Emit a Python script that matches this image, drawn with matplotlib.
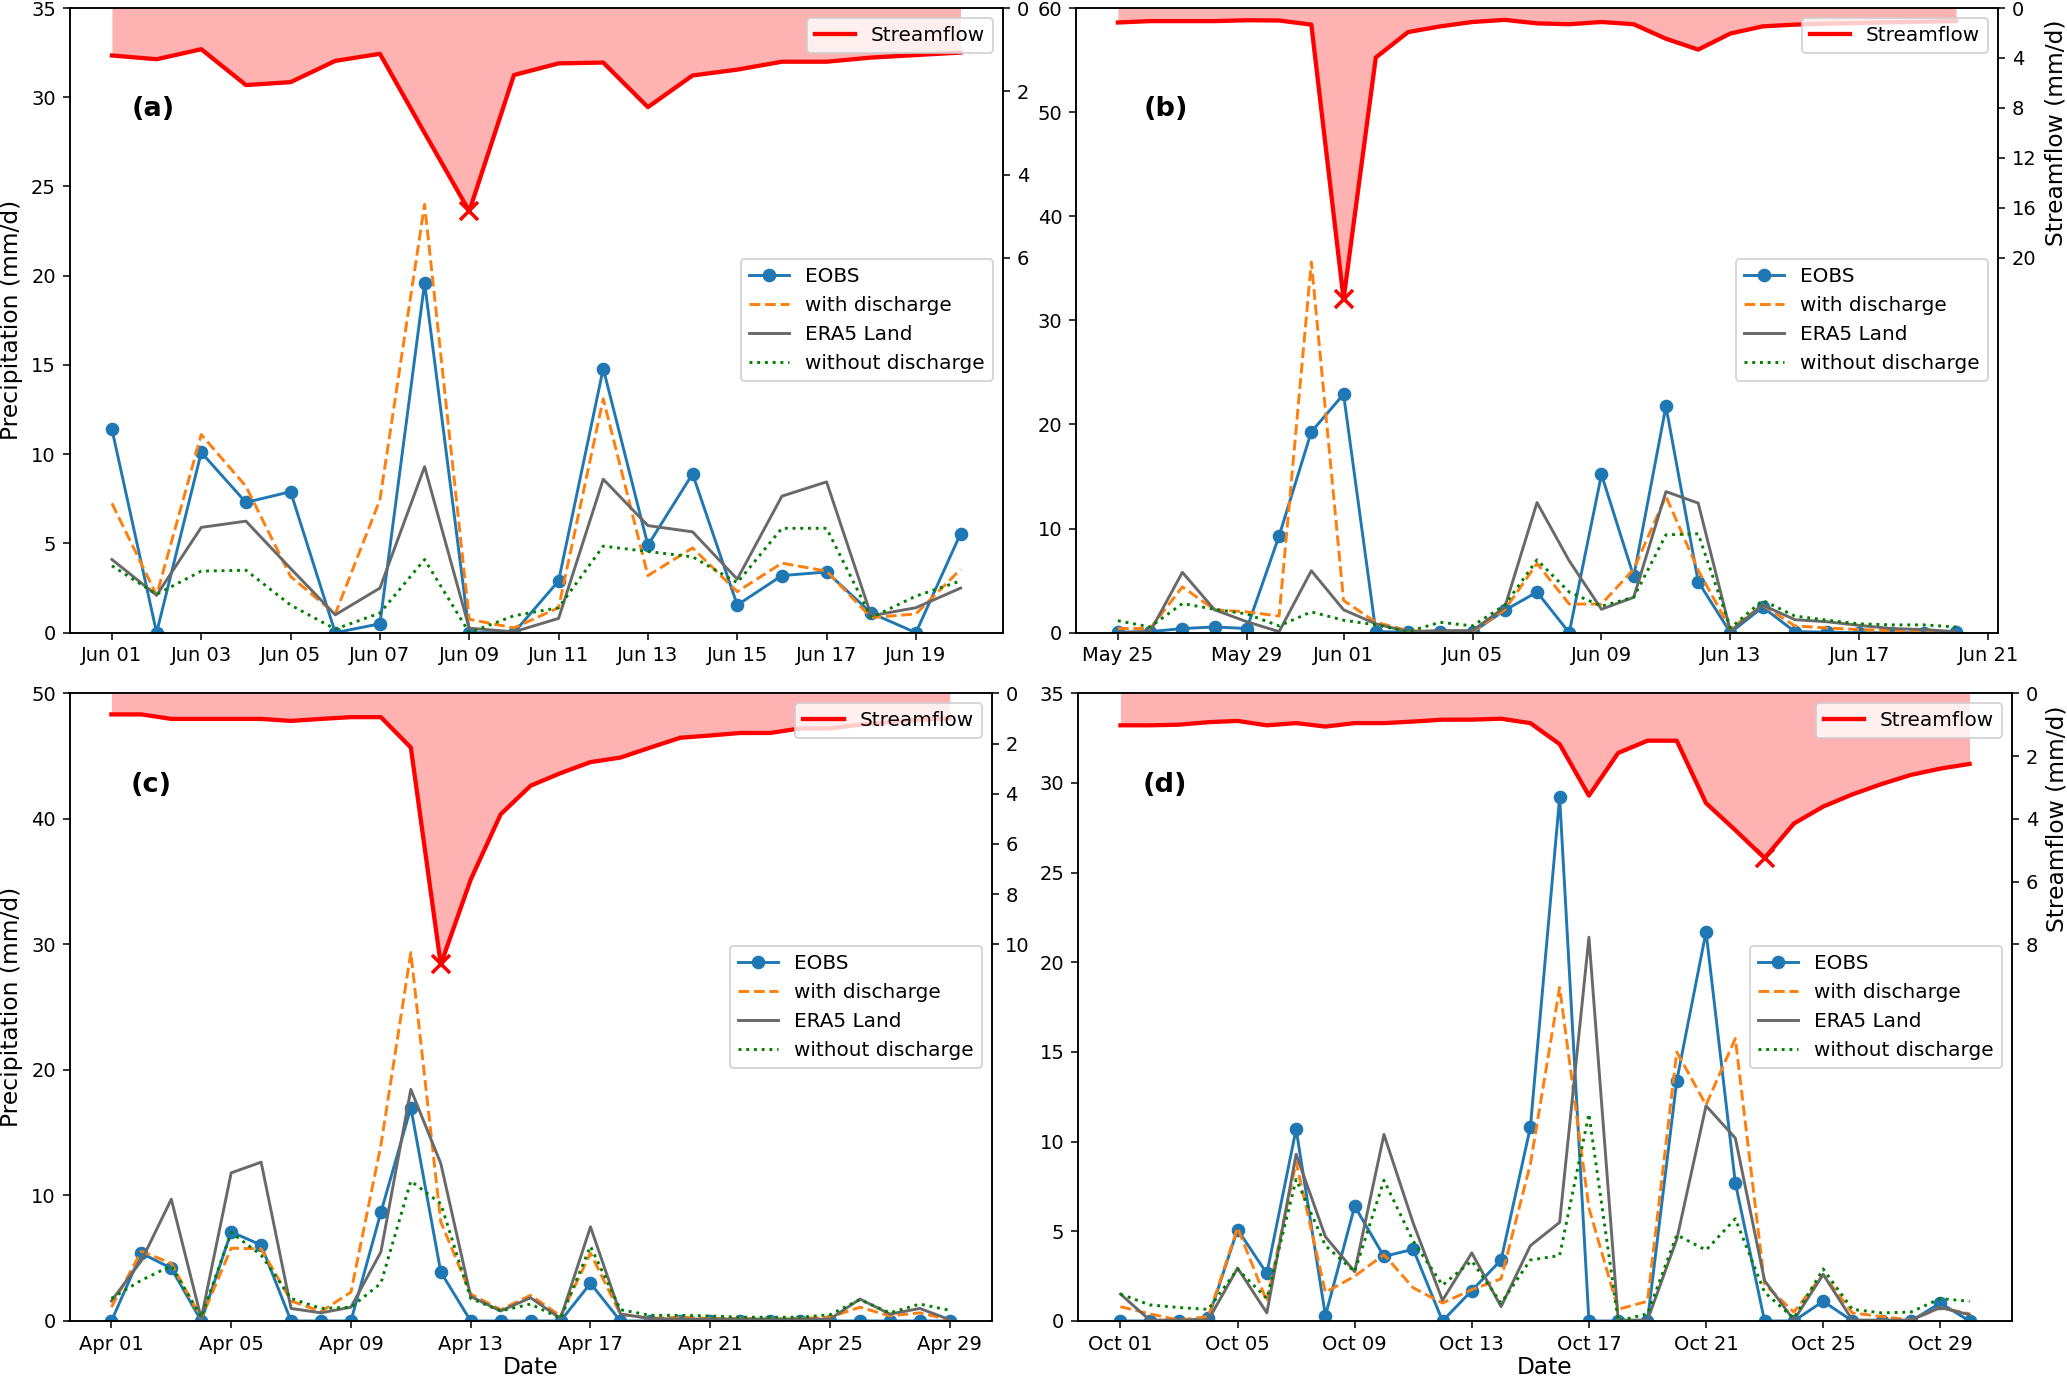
import matplotlib
matplotlib.use("Agg")
import matplotlib.pyplot as plt
import matplotlib.dates as mdates
import pandas as pd

# --- data ---
dates_a = pd.date_range("2000-06-01", "2000-06-20")
eobs_a = [11.4, 0, 10.1, 7.3, 7.9, 0, 0.5, 19.6, 0, 0, 2.9, 14.8, 4.9, 8.9, 1.55, 3.2, 3.4, 1.1, 0, 5.55]
with_a = [7.25, 2.1, 11.1, 8.2, 3.15, 1.05, 7.45, 24.0, 0.75, 0.27, 1.4, 13.1, 3.2, 4.75, 2.3, 3.9, 3.45, 0.85, 1.05, 3.55]
era_a = [4.1, 2.1, 5.9, 6.25, 3.6, 1.0, 2.5, 9.3, 0.25, 0.05, 0.8, 8.6, 6.0, 5.65, 3.0, 7.65, 8.45, 0.95, 1.4, 2.5]
without_a = [3.75, 2.15, 3.45, 3.5, 1.55, 0.2, 1.1, 4.1, 0.0, 0.95, 1.4, 4.85, 4.55, 4.25, 2.8, 5.85, 5.85, 0.85, 2.05, 2.9]
q_a = [1.14, 1.23, 0.99, 1.85, 1.78, 1.27, 1.10, 3.0, 4.88, 1.61, 1.33, 1.31, 2.38, 1.62, 1.48, 1.29, 1.29, 1.19, 1.13, 1.07]

dates_b = pd.date_range("2000-05-25", "2000-06-20")
eobs_b = [0.05, 0.1, 0.4, 0.55, 0.4, 9.3, 19.3, 22.9, 0.1, 0.05, 0.05, 0.05, 2.15, 3.9, 0, 15.2, 5.4, 21.75,
          4.9, 0, 2.45, 0.1, 0.05, 0, 0, 0, 0.1]
with_b = [0.4, 0.4, 4.4, 2.2, 2.0, 1.6, 35.6, 3.1, 1.0, 0.2, 0.1, 0.1, 2.2, 6.65, 2.75, 2.75, 6.1, 13.1,
          6.0, 0.35, 2.65, 0.65, 0.45, 0.3, 0.2, 0.1, 0.05]
era_b = [0.0, 0.1, 5.8, 2.2, 1.05, 0.1, 5.95, 2.2, 0.85, 0.1, 0.2, 0.2, 2.45, 12.5, 6.9, 2.25, 3.4, 13.55,
         12.45, 0.15, 2.65, 1.25, 1.05, 0.7, 0.4, 0.3, 0.1]
without_b = [1.15, 0.55, 2.8, 2.25, 1.8, 0.65, 2.0, 1.2, 0.75, 0.1, 1.0, 0.65, 2.65, 7.0, 3.9, 2.55, 3.4, 9.4,
             9.5, 0.45, 3.1, 1.6, 1.2, 0.85, 0.75, 0.75, 0.55]
q_b = [1.16, 1.05, 1.05, 1.05, 0.98, 1.0, 1.33, 23.3, 3.96, 1.93, 1.47, 1.12, 0.95, 1.23, 1.30, 1.12, 1.30,
       2.46, 3.33, 2.04, 1.47, 1.33, 1.25, 1.2, 1.15, 1.1, 1.05]

dates_c = pd.date_range("2000-04-01", "2000-04-29")
eobs_c = [0, 5.4, 4.2, 0, 7.1, 6.05, 0, 0, 0, 8.65, 17.0, 3.9, 0, 0, 0, 0, 3.0, 0, 0, 0, 0, 0, 0, 0, 0,
          0, 0, 0, 0]
with_c = [1.1, 5.55, 4.6, 0.2, 5.8, 5.75, 1.6, 0.75, 2.3, 14.0, 29.35, 7.9, 2.15, 0.9, 2.05, 0.4, 5.4, 0.55,
          0.2, 0.3, 0.2, 0.2, 0.15, 0.2, 0.3, 1.1, 0.4, 0.65, 0.1]
era_c = [1.6, 4.8, 9.7, 0.2, 11.8, 12.65, 1.0, 0.65, 1.1, 5.5, 18.45, 12.55, 1.95, 0.8, 1.85, 0.2, 7.5, 0.55,
         0.2, 0.15, 0.15, 0.15, 0.15, 0.15, 0.15, 1.75, 0.55, 1.0, 0.1]
without_c = [1.8, 3.25, 4.4, 0.3, 7.05, 5.25, 1.8, 1.0, 1.1, 3.0, 11.15, 9.35, 1.8, 0.8, 1.35, 0.2, 5.95, 0.9,
             0.45, 0.45, 0.4, 0.3, 0.3, 0.3, 0.5, 1.7, 0.65, 1.35, 0.85]
q_c = [0.84, 0.84, 1.02, 1.02, 1.02, 1.02, 1.1, 1.02, 0.95, 0.95, 2.16, 10.8, 7.42, 4.82, 3.68, 3.18, 2.74,
       2.56, 2.16, 1.77, 1.68, 1.58, 1.58, 1.40, 1.40, 1.25, 1.15, 1.05, 1.0]

dates_d = pd.date_range("2000-10-01", "2000-10-30")
eobs_d = [0, 0, 0, 0.15, 5.1, 2.65, 10.7, 0.3, 6.4, 3.6, 4.0, 0, 1.7, 3.4, 10.8, 29.2, 0, 0, 0, 13.4, 21.7,
          7.7, 0, 0, 1.1, 0, 0, 0, 1.0, 0]
with_d = [0.8, 0.4, 0.05, 0.25, 5.2, 1.1, 8.85, 1.6, 2.5, 3.7, 1.85, 1.0, 1.75, 2.35, 8.75, 18.6, 6.3, 0.65,
          1.1, 15.0, 12.05, 15.75, 2.05, 0.5, 2.6, 0.45, 0.25, 0.05, 0.75, 0.4]
era_d = [1.5, 0.05, 0.05, 0.05, 2.95, 0.45, 9.3, 4.7, 2.75, 10.4, 5.45, 1.15, 3.8, 0.8, 4.2, 5.5, 21.4, 0.05,
         0.05, 4.55, 12.0, 10.2, 2.25, 0.05, 2.6, 0.05, 0.05, 0.05, 0.75, 0.35]
without_d = [1.5, 0.9, 0.75, 0.65, 2.9, 1.25, 7.9, 4.2, 2.75, 7.85, 4.45, 2.0, 3.35, 1.0, 3.4, 3.65, 11.55,
             0.0, 0.4, 4.8, 3.95, 5.7, 1.6, 0.15, 2.9, 0.65, 0.45, 0.5, 1.25, 1.1]
q_d = [1.02, 1.02, 1.0, 0.92, 0.88, 1.02, 0.95, 1.06, 0.95, 0.95, 0.9, 0.84, 0.84, 0.81, 0.95, 1.62, 3.26,
       1.9, 1.51, 1.51, 3.5, 4.36, 5.25, 4.15, 3.61, 3.22, 2.89, 2.6, 2.4, 2.25]

panel_labels = ["(a)", "(b)", "(c)", "(d)"]
q_ticks = [[0, 2, 4, 6], [0, 4, 8, 12, 16, 20], [0, 2, 4, 6, 8, 10], [0, 2, 4, 6, 8]]
q_max = [15, 50, 25, 20]
p_max = [35, 60, 50, 35]

plt.rcParams["font.size"] = 10

W, H = 2067, 1376
fig = plt.figure(figsize=(W / 140, H / 140), dpi=140)

# axes boxes in pixels (left, top, right, bottom)
boxes = [(69.5, 8, 1003, 632.7), (1076, 8, 1998, 632.7),
         (69.5, 693.3, 991.7, 1321), (1078, 693.3, 2012, 1321)]
label_pos = [(0.067, 0.839), (0.073, 0.839), (0.066, 0.854), (0.069, 0.854)]

panels = [
    (dates_a, eobs_a, with_a, era_a, without_a, q_a),
    (dates_b, eobs_b, with_b, era_b, without_b, q_b),
    (dates_c, eobs_c, with_c, era_c, without_c, q_c),
    (dates_d, eobs_d, with_d, era_d, without_d, q_d),
]

for i, (dates, eobs, withd, era, without, q) in enumerate(panels):
    l, t, r, b = boxes[i]
    ax = fig.add_axes([l / W, (H - b) / H, (r - l) / W, (b - t) / H])

    ax.plot(dates, eobs, "-o", color="tab:blue", label="EOBS")
    ax.plot(dates, withd, "--", color="tab:orange", label="with discharge")
    ax.plot(dates, era, "-", color="dimgray", label="ERA5 Land")
    ax.plot(dates, without, ":", color="green", label="without discharge")
    ax.set_ylim(0, p_max[i])
    ax.legend(loc="center right", fontsize=10.3)

    ax2 = ax.twinx()
    ax2.fill_between(dates, 0, q, color="red", alpha=0.3, linewidth=0)
    ax2.plot(dates, q, color="red", lw=2.2, label="Streamflow")
    k = max(range(len(q)), key=lambda j: q[j])
    ax2.plot(dates[k], q[k], "x", color="red", ms=9, mew=1.8)
    ax2.set_ylim(q_max[i], 0)
    ax2.set_yticks(q_ticks[i])
    ax2.legend(loc="upper right", fontsize=10.3)

    if i == 0:
        ax.xaxis.set_major_locator(mdates.DayLocator(bymonthday=list(range(1, 32, 2))))
    else:
        ax.xaxis.set_major_locator(mdates.DayLocator(bymonthday=[1, 5, 9, 13, 17, 21, 25, 29]))
    ax.xaxis.set_major_formatter(mdates.DateFormatter("%b %d"))

    ax.text(label_pos[i][0], label_pos[i][1], panel_labels[i], transform=ax.transAxes,
            fontsize=14, fontweight="bold", ha="left", va="center")

    if i % 2 == 0:
        ax.set_ylabel("Precipitation (mm/d)", fontsize=12)
    else:
        ax2.set_ylabel("Streamflow (mm/d)", fontsize=12, y=0.8)
    if i >= 2:
        ax.set_xlabel("Date", fontsize=12, labelpad=1)

fig.savefig("out.png", dpi=140)
